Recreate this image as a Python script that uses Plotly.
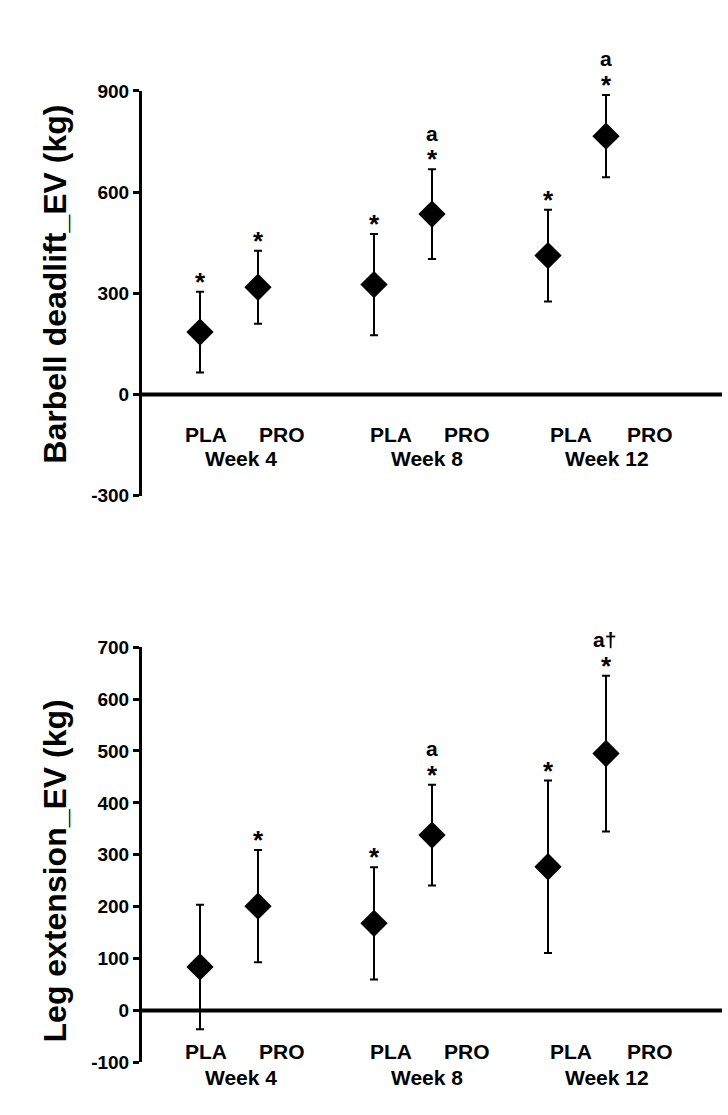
import plotly.graph_objects as go

W, H = 728, 1115

# ---- data ----
groups = ["Week 4", "Week 8", "Week 12"]
conditions = ["PLA", "PRO"]
x_pos = [1, 2, 4, 5, 7, 8]  # PLA/PRO pairs per week

deadlift_mean = [185, 318, 326, 535, 412, 766]
deadlift_err = [120, 108, 150, 133, 136, 122]
deadlift_star = ["*", "*", "*", "*", "*", "*"]
deadlift_letter = ["", "", "", "a", "", "a"]

legext_mean = [84, 201, 168, 338, 277, 495]
legext_err = [120, 108, 108, 97, 166, 150]
legext_star = ["", "*", "*", "*", "*", "*"]
legext_letter = ["", "", "", "a", "", "a\u2020"]

top_ticks = [-300, 0, 300, 600, 900]
top_ticktext = ["-300", "0", "300", "600", "900"]
bot_ticks = [-100, 0, 100, 200, 300, 400, 500, 600, 700]
bot_ticktext = ["-100", "0", "100", "200", "300", "400", "500", "600", "700"]

# label positions (x axis units) for condition and week text under the zero line
cond_label_x = [1.10, 2.42, 4.29, 5.61, 7.40, 8.75]
week_label_x = [1.71, 4.91, 8.02]

FONT = "Liberation Sans, Arial, sans-serif"

fig = go.Figure()

def add_panel(mean, err, xa, ya):
    fig.add_trace(go.Scatter(
        x=x_pos, y=mean, mode="markers", xaxis=xa, yaxis=ya,
        marker=dict(symbol="diamond", size=21, color="black"),
        error_y=dict(type="data", array=err, visible=True, color="black",
                     thickness=2, width=4),
        showlegend=False, hoverinfo="skip"))

add_panel(deadlift_mean, deadlift_err, "x", "y")
add_panel(legext_mean, legext_err, "x2", "y2")

top_dom = [1 - 495 / H, 1 - 82.5 / H]
bot_dom = [1 - 1072.7 / H, 1 - 649.3 / H]
x_dom = [142 / W, 722 / W]

yax_common = dict(
    showgrid=False, zeroline=False,
    showline=True, linecolor="black", linewidth=3,
    ticks="outside", ticklen=6, tickwidth=3, tickcolor="black",
    tickfont=dict(family=FONT, size=19, color="black", weight="bold"),
    fixedrange=True,
)

fig.update_layout(
    width=W, height=H, autosize=False,
    margin=dict(l=0, r=0, t=0, b=0),
    paper_bgcolor="white", plot_bgcolor="white",
    xaxis=dict(domain=x_dom, range=[0, 10], visible=False, anchor="y", fixedrange=True),
    xaxis2=dict(domain=x_dom, range=[0, 10], visible=False, anchor="y2", fixedrange=True),
    yaxis=dict(domain=top_dom, range=[-300, 900], tickvals=top_ticks,
               ticktext=top_ticktext, anchor="x", **yax_common),
    yaxis2=dict(domain=bot_dom, range=[-100, 700], tickvals=bot_ticks,
                ticktext=bot_ticktext, anchor="x2", **yax_common),
)

# zero baselines (thick horizontal axis at y = 0)
for xr, yr in (("x domain", "y"), ("x2 domain", "y2")):
    fig.add_shape(type="line", xref=xr, yref=yr, x0=0, x1=1, y0=0, y1=0,
                  line=dict(color="black", width=4), layer="below")

ann = []

def sig_marks(mean, err, stars, letters, xref, yref):
    for xi, m, e, s, l in zip(x_pos, mean, err, stars, letters):
        top = m + e
        if s:
            ann.append(dict(x=xi, y=top, xref=xref, yref=yref, text=s,
                            showarrow=False, yanchor="middle", yshift=10,
                            font=dict(family=FONT, size=26, color="black", weight="bold")))
        if l:
            ann.append(dict(x=xi, y=top, xref=xref, yref=yref, text=l,
                            showarrow=False, yanchor="middle", yshift=36,
                            xshift=-2 if len(l) > 1 else 0,
                            font=dict(family=FONT, size=21, color="black", weight="bold")))

sig_marks(deadlift_mean, deadlift_err, deadlift_star, deadlift_letter, "x", "y")
sig_marks(legext_mean, legext_err, legext_star, legext_letter, "x2", "y2")

def cat_labels(xref, cond_py, week_py):
    for i, cx in enumerate(cond_label_x):
        ann.append(dict(x=cx, y=1 - cond_py / H, xref=xref, yref="paper",
                        text=conditions[i % 2], showarrow=False,
                        yanchor="middle",
                        font=dict(family=FONT, size=21, color="black", weight="bold")))
    for wx, g in zip(week_label_x, groups):
        ann.append(dict(x=wx, y=1 - week_py / H, xref=xref, yref="paper",
                        text=g, showarrow=False, yanchor="middle",
                        font=dict(family=FONT, size=21, color="black", weight="bold")))

cat_labels("x", 432.5, 457.5)
cat_labels("x2", 1061.5, 1087.5)

ann.append(dict(x=55 / W, y=1 - 280 / H, xref="paper", yref="paper",
                text="Barbell deadlift_EV (kg)", textangle=-90, showarrow=False,
                xanchor="center", yanchor="middle",
                font=dict(family=FONT, size=32, color="black", weight="bold")))
ann.append(dict(x=55 / W, y=1 - 878 / H, xref="paper", yref="paper",
                text="Leg extension_EV (kg)", textangle=-90, showarrow=False,
                xanchor="center", yanchor="middle",
                font=dict(family=FONT, size=32, color="black", weight="bold")))

fig.update_layout(annotations=ann)

fig.write_html("out.html",
               config={"displayModeBar": False},
               post_script="document.body.style.margin='0px';document.body.style.padding='0px';")
